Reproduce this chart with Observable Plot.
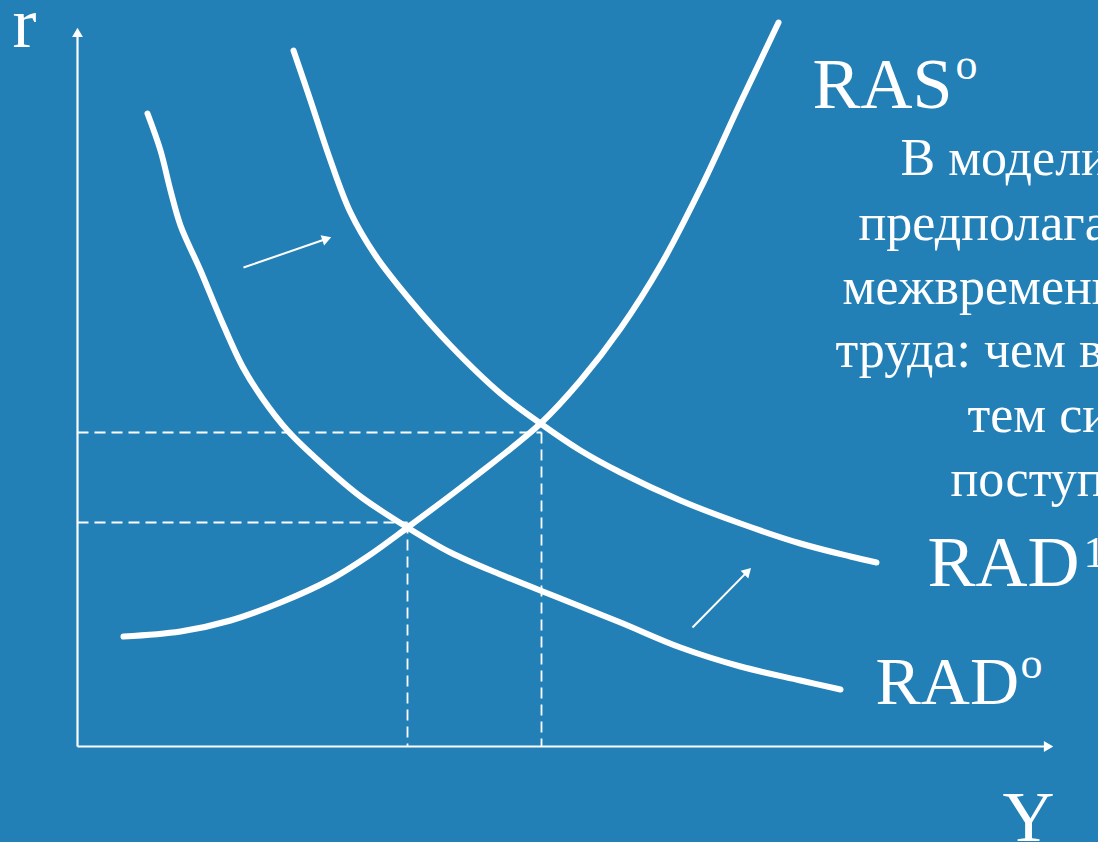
<!DOCTYPE html>
<html><head><meta charset="utf-8">
<script src="https://cdn.jsdelivr.net/npm/d3@7"></script>
<script src="https://cdn.jsdelivr.net/npm/@observablehq/plot@0.6"></script>
<style>html,body{margin:0;padding:0;background:#2280b7;overflow:hidden}</style>
</head><body><div id="chart"></div>
<script>
// Curves in abstract units: Y (output) and r (interest rate)
const rasY = [4.6, 10.3, 15.3, 20.3, 25.3, 29.0, 33.0, 39.5, 46.3, 50.3, 54.3, 58.3, 62.3, 66.3, 68.3, 70.1];
const rasR = [11.0, 11.5, 12.6, 14.4, 16.7, 19.0, 21.9, 26.8, 32.3, 36.6, 41.8, 48.1, 55.8, 64.4, 68.6, 72.4];

const rad0Y = [7.0, 8.3, 9.3, 10.3, 12.3, 14.3, 16.5, 18.5, 21.0, 24.3, 28.3, 33.0, 37.3, 42.3, 48.3, 54.3, 60.3, 66.3, 72.3, 76.3];
const rad0R = [63.3, 59.6, 55.6, 52.1, 47.6, 42.8, 38.0, 34.8, 31.6, 28.4, 25.0, 21.9, 19.4, 17.2, 14.8, 12.4, 9.9, 8.0, 6.6, 5.7];

const rad1Y = [21.6, 23.3, 25.3, 27.3, 29.8, 33.3, 37.3, 42.3, 46.3, 50.3, 54.3, 60.3, 66.3, 72.3, 77.3, 79.9];
const rad1R = [69.6, 64.6, 58.6, 53.4, 49.1, 44.6, 40.1, 35.3, 32.3, 29.6, 27.4, 24.6, 22.3, 20.3, 19.0, 18.4];

// Equilibrium guide levels
const eqY = [33.0, 46.4];
const eqR = [22.4, 31.4];

// Shift arrows (from -> to)
const shiftX1 = [16.6, 61.5], shiftY1 = [47.9, 11.9];
const shiftX2 = [25.3, 67.3], shiftY2 = [50.9, 17.8];

// Axis extents
const axisYmax = 97.5, axisRmax = 71.8;

// Curve labels
const labelText = ["RAS", "RAD", "RAD"];
const labelX = [73.5, 85.0, 79.8];
const labelY = [63.9, 16.1, 4.3];
const labelSize = [72, 72, 68];
const supText = ["o", "1", "o"];
const supX = [87.8, 100.6, 94.3];
const supY = [66.8, 18.0, 6.9];

// Axis titles
const axisText = ["r", "Y"];
const axisX = [-6.5, 92.5];
const axisY = [70.0, -9.4];

// Explanatory text (cut off at the right edge in the original slide)
const noteLines = ["В модели RBC", "предполагается", "межвременное замещение", "труда: чем выше ставка процента,", "тем сильнее", "поступает предложение"];
const noteX = [82.3, 78.1, 76.5, 75.8, 89.0, 87.3];
const noteY = [57.2, 50.7, 44.3, 38.0, 31.5, 25.1];

const pts = (xs, ys) => xs.map((x, i) => ({x, y: ys[i]}));
const idx = arr => arr.map((_, i) => i);
const W = "white";

// arrow heads: tip points and direction
const heads = [
  {x1: 0, y1: 0, x2: 0, y2: axisRmax},
  {x1: 0, y1: 0, x2: axisYmax, y2: 0},
  ...idx(shiftX1).map(i => ({x1: shiftX1[i], y1: shiftY1[i], x2: shiftX2[i], y2: shiftY2[i]}))
].map(d => {
  const dx = d.x2 - d.x1, dy = d.y2 - d.y1, L = Math.hypot(dx, dy);
  return {...d, hx: d.x2 - 0.55 * dx / L, hy: d.y2 - 0.55 * dy / L, rot: Math.atan2(dx, dy) * 180 / Math.PI};
});

const chart = Plot.plot({
  width: 1098, height: 842, margin: 0,
  x: {domain: [-7.7, 102.1], axis: null},
  y: {domain: [-9.6, 74.6], axis: null},
  style: {background: "#2280b7", fontFamily: "'Liberation Serif', 'Times New Roman', serif", color: W},
  marks: [
    // axes
    Plot.link(heads.slice(0, 2), {x1: "x1", y1: "y1", x2: "hx", y2: "hy", stroke: W, strokeWidth: 2.2}),
    // dashed guides
    Plot.link(idx(eqY), {x1: () => 0, y1: i => eqR[i], x2: i => eqY[i], y2: i => eqR[i], stroke: W, strokeWidth: 1.8, strokeDasharray: "11,6"}),
    Plot.link(idx(eqY), {x1: i => eqY[i], y1: i => eqR[i], x2: i => eqY[i], y2: () => 0, stroke: W, strokeWidth: 1.8, strokeDasharray: "11,6"}),
    // curves
    Plot.line(pts(rasY, rasR), {x: "x", y: "y", stroke: W, strokeWidth: 6, curve: "catmull-rom", strokeLinecap: "round"}),
    Plot.line(pts(rad0Y, rad0R), {x: "x", y: "y", stroke: W, strokeWidth: 6, curve: "catmull-rom", strokeLinecap: "round"}),
    Plot.line(pts(rad1Y, rad1R), {x: "x", y: "y", stroke: W, strokeWidth: 6, curve: "catmull-rom", strokeLinecap: "round"}),
    // shift arrows
    Plot.link(heads.slice(2), {x1: "x1", y1: "y1", x2: "hx", y2: "hy", stroke: W, strokeWidth: 2}),
    Plot.dot(heads, {x: "hx", y: "hy", symbol: "triangle", r: 4, fill: W, stroke: "none", rotate: "rot"}),
    // labels
    Plot.text(idx(labelText), {x: i => labelX[i], y: i => labelY[i], text: i => labelText[i], fill: W, fontSize: i => labelSize[i], textAnchor: "start", lineAnchor: "bottom"}),
    Plot.text(idx(supText), {x: i => supX[i], y: i => supY[i], text: i => supText[i], fill: W, fontSize: 44, textAnchor: "start", lineAnchor: "bottom"}),
    Plot.text(idx(axisText), {x: i => axisX[i], y: i => axisY[i], text: i => axisText[i], fill: W, fontSize: 72, textAnchor: "start", lineAnchor: "bottom"}),
    Plot.text(idx(noteLines), {x: i => noteX[i], y: i => noteY[i], text: i => noteLines[i], fill: W, fontSize: 52, textAnchor: "start", lineAnchor: "bottom"})
  ]
});
document.getElementById("chart").appendChild(chart);
</script>
</body></html>
